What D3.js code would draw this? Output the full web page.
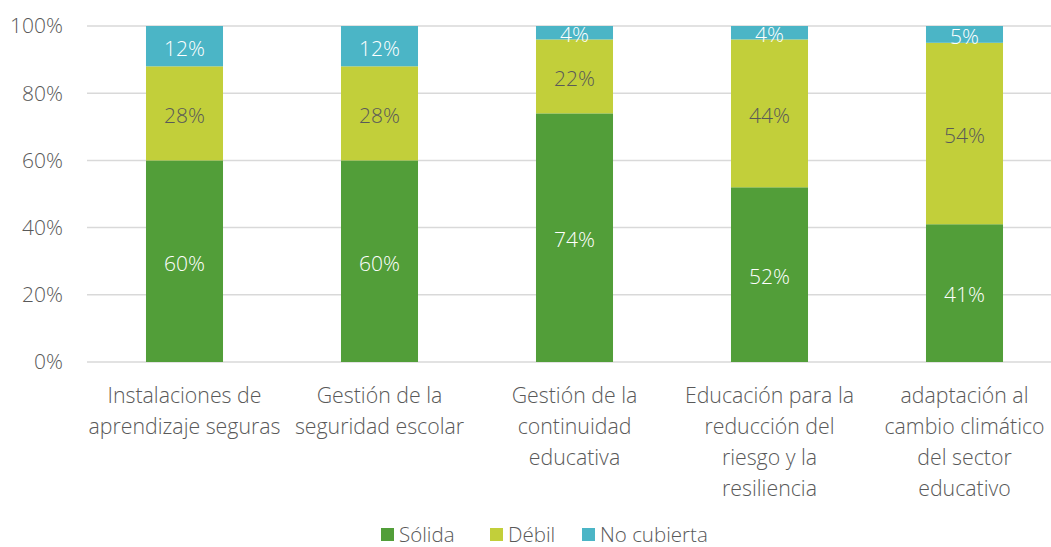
<!DOCTYPE html>
<meta charset="utf-8">
<script src="https://d3js.org/d3.v7.min.js"></script>
<style>
  body { margin: 0; background: #fff; }
  svg text { font-family: "Open Sans", sans-serif; font-weight: 300; }
</style>
<div id="chart"></div>
<script>
  // data
  const categories = [
    ["Instalaciones de", "aprendizaje seguras"],
    ["Gestión de la", "seguridad escolar"],
    ["Gestión de la", "continuidad", "educativa"],
    ["Educación para la", "reducción del", "riesgo y la", "resiliencia"],
    ["adaptación al", "cambio climático", "del sector", "educativo"]
  ];
  const seriesNames = ["Sólida", "Débil", "No cubierta"];
  const solida = [60, 60, 74, 52, 41];
  const debil = [28, 28, 22, 44, 54];
  const noCubierta = [12, 12, 4, 4, 5];
  const yTicks = [0, 20, 40, 60, 80, 100];

  const colors = ["#529e39", "#c2cf3a", "#4bb5c6"];
  const labelColors = ["#ffffff", "#595959", "#ffffff"];

  const W = 1051, H = 547;
  const margin = {top: 26, left: 87, bottom: 185};
  const plotRight = 1062;

  const svg = d3.select("#chart").append("svg")
      .attr("width", W).attr("height", H);

  const rows = categories.map((c, i) => ({
    i, "Sólida": solida[i], "Débil": debil[i], "No cubierta": noCubierta[i]
  }));
  const stacked = d3.stack().keys(seriesNames)(rows);

  const x = d3.scaleBand().domain(d3.range(categories.length))
      .range([margin.left, plotRight]).paddingInner(0.605).paddingOuter(0.3025);
  const y = d3.scaleLinear().domain([0, 100]).range([H - margin.bottom, margin.top]);

  // gridlines
  svg.append("g").selectAll("line").data(yTicks).join("line")
      .attr("x1", margin.left).attr("x2", plotRight)
      .attr("y1", d => y(d)).attr("y2", d => y(d))
      .attr("stroke", "#d9d9d9").attr("stroke-width", 1.5);

  // y axis labels
  svg.append("g").selectAll("text").data(yTicks).join("text")
      .attr("x", 63).attr("y", d => y(d))
      .attr("dy", "0.35em").attr("text-anchor", "end")
      .attr("font-size", 21).attr("fill", "#595959")
      .text(d => d + "%");

  // bars
  const layers = svg.append("g").selectAll("g").data(stacked).join("g")
      .attr("fill", (d, k) => colors[k]);
  layers.selectAll("rect").data(d => d).join("rect")
      .attr("x", (d, i) => x(i))
      .attr("width", x.bandwidth())
      .attr("y", d => y(d[1]))
      .attr("height", d => y(d[0]) - y(d[1]));

  // segment labels
  stacked.forEach((s, k) => {
    svg.append("g").selectAll("text").data(s).join("text")
        .attr("x", (d, i) => x(i) + x.bandwidth() / 2)
        .attr("y", d => y((d[0] + d[1]) / 2) + 2)
        .attr("dy", "0.35em").attr("text-anchor", "middle")
        .attr("font-size", 21).attr("fill", labelColors[k])
        .text(d => (d[1] - d[0]) + "%");
  });

  // category labels
  const xl = svg.append("g").selectAll("text").data(categories).join("text")
      .attr("x", (d, i) => x(i) + x.bandwidth() / 2)
      .attr("y", 403).attr("text-anchor", "middle")
      .attr("font-size", 21.3).attr("fill", "#595959");
  xl.selectAll("tspan").data((d, i) => d.map(t => ({t, i}))).join("tspan")
      .attr("x", d => x(d.i) + x.bandwidth() / 2)
      .attr("dy", (d, j) => j === 0 ? 0 : 31)
      .text(d => d.t);

  // legend
  const legendX = [381, 490, 582];
  const lg = svg.append("g").selectAll("g").data(seriesNames).join("g")
      .attr("transform", (d, k) => `translate(${legendX[k]},528)`);
  lg.append("rect").attr("width", 13).attr("height", 13)
      .attr("fill", (d, k) => colors[k]);
  lg.append("text").attr("x", 18).attr("y", 7).attr("dy", "0.33em")
      .attr("font-size", 20.5).attr("fill", "#595959")
      .text(d => d);
</script>
